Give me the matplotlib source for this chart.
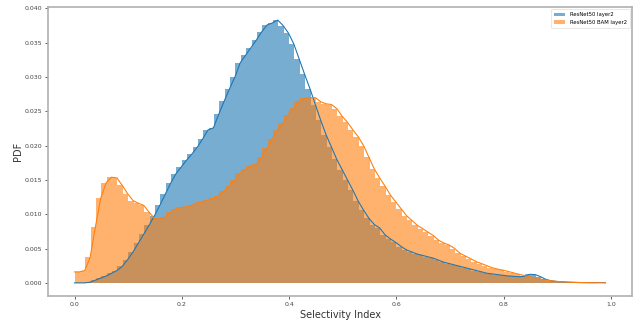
import numpy as np
import matplotlib
matplotlib.use("Agg")
import matplotlib.pyplot as plt

# histogram bin edges: 0.00 .. 0.99, width 0.01
bin_start = 0.0
bin_width = 0.01
n_bins = 99

# density values (x 1e-3) per bin
resnet50 = [
    0.0, 0.0, 0.1, 0.4, 0.7, 1.0, 1.4, 1.8, 2.4, 3.4,
    4.5, 5.8, 7.1, 8.4, 9.8, 11.3, 12.9, 14.5, 15.9, 16.9,
    17.9, 18.8, 19.8, 21.0, 22.3, 22.6, 24.6, 26.5, 28.3, 30.0,
    32.1, 33.2, 34.3, 35.4, 36.6, 37.6, 37.9, 38.3, 37.5, 36.4,
    34.8, 32.6, 30.4, 28.3, 26.0, 23.7, 21.6, 19.8, 18.0, 16.5,
    15.0, 13.5, 11.9, 10.6, 9.4, 8.5, 8.0, 7.0, 6.4, 5.9,
    5.3, 4.8, 4.5, 4.2, 4.0, 3.8, 3.6, 3.3, 3.0, 2.8,
    2.6, 2.4, 2.2, 2.0, 1.8, 1.6, 1.4, 1.3, 1.2, 1.1,
    1.0, 0.95, 0.9, 0.95, 1.25, 1.2, 0.9, 0.5, 0.3, 0.2,
    0.15, 0.1, 0.08, 0.05, 0.04, 0.03, 0.03, 0.05, 0.03,
]
resnet50_bam = [
    1.6, 1.8, 3.7, 8.2, 12.4, 14.6, 15.4, 15.3, 14.2, 13.0,
    12.0, 11.6, 11.3, 10.3, 9.4, 9.3, 9.6, 10.3, 10.8, 11.0,
    11.1, 11.3, 11.7, 11.8, 12.1, 12.3, 12.7, 13.4, 14.1, 15.0,
    16.0, 16.6, 17.0, 17.3, 18.3, 19.6, 21.0, 22.3, 23.3, 24.5,
    25.5, 26.5, 26.9, 27.0, 27.0, 26.4, 26.1, 26.0, 25.4, 24.3,
    23.4, 22.3, 21.3, 20.0, 18.3, 16.6, 15.3, 14.1, 12.8, 11.8,
    10.8, 9.8, 9.1, 8.4, 7.9, 7.4, 6.9, 6.2, 5.8, 5.5,
    5.0, 4.3, 3.9, 3.5, 3.1, 2.8, 2.5, 2.2, 2.0, 1.85,
    1.65, 1.45, 1.25, 1.05, 0.9, 0.75, 0.55, 0.4, 0.3, 0.22,
    0.15, 0.1, 0.07, 0.05, 0.04, 0.03, 0.02, 0.02, 0.01,
]
labels = ["ResNet50 layer2", "ResNet50 BAM layer2"]
colors = ["#1f77b4", "#ff7f0e"]

edges = bin_start + bin_width * np.arange(n_bins + 1)
centers = 0.5 * (edges[:-1] + edges[1:])

fig = plt.figure(figsize=(6.35, 3.23), dpi=100)
ax = fig.add_axes([0.0756, 0.0836, 0.9197, 0.8947])
ax.use_sticky_edges = False

series = [np.array(resnet50) / 1000.0, np.array(resnet50_bam) / 1000.0]
for vals, lab, col in zip(series, labels, colors):
    ax.stairs(vals, edges, fill=True, color=col, alpha=0.6, label=lab, linewidth=0)
for vals, col in zip(series, colors):
    xs = np.concatenate([[edges[0]], centers + 0.004, [edges[-1]]])
    ys = np.concatenate([[vals[0]], vals, [vals[-1]]])
    ax.plot(xs, ys, color=col, linewidth=0.8)

ax.margins(x=0.05, y=0.05)
ax.set_xticks([0.0, 0.2, 0.4, 0.6, 0.8, 1.0])
ax.set_xticklabels(["0.0", "0.2", "0.4", "0.6", "0.8", "1.0"])
ax.set_yticks(np.arange(0, 0.0401, 0.005))
ax.set_yticklabels([f"{v:.3f}" for v in np.arange(0, 0.0401, 0.005)])
ax.tick_params(labelsize=4.5, colors="#444444", length=2, width=0.6, pad=2.5)
for sp in ax.spines.values():
    sp.set_color("#b0b0b0")
    sp.set_linewidth(1.2)
ax.set_xlabel("Selectivity Index", fontsize=7, color="#333333", labelpad=2)
ax.set_ylabel("PDF", fontsize=7, color="#333333", labelpad=1)
leg = ax.legend(loc="upper right", fontsize=3.8, frameon=True, handlelength=2.1,
                borderpad=0.6, labelspacing=0.5, borderaxespad=0.4)
leg.get_frame().set_linewidth(0.4)

fig.savefig("out.png", dpi=100)
